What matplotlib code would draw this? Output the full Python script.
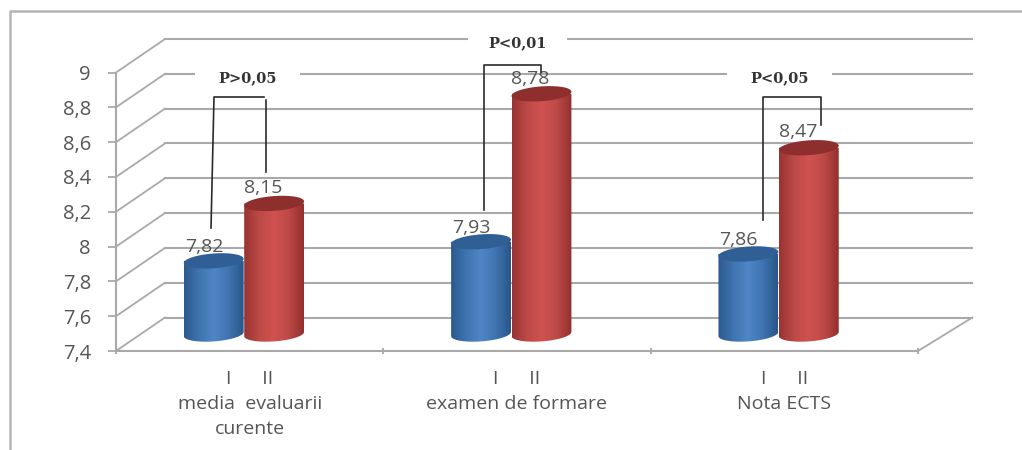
import numpy as np
import matplotlib
matplotlib.use("Agg")
import matplotlib.pyplot as plt
from matplotlib.colors import LinearSegmentedColormap
from matplotlib.lines import Line2D
from matplotlib.patches import Polygon, Rectangle
from matplotlib.transforms import Affine2D, IdentityTransform, ScaledTranslation

plt.rcParams['font.family'] = ['Open Sans', 'DejaVu Sans']

# Data
categories = ["I      II\nmedia  evaluarii\ncurente",
              "I      II\nexamen de formare",
              "I      II\nNota ECTS"]
values_i = [7.82, 7.93, 7.86]
values_ii = [8.15, 8.78, 8.47]
value_labels_i = ["7,82", "7,93", "7,86"]
value_labels_ii = ["8,15", "8,78", "8,47"]
y_ticks = [7.4, 7.6, 7.8, 8.0, 8.2, 8.4, 8.6, 8.8, 9.0]
y_labels = ["7,4", "7,6", "7,8", "8", "8,2", "8,4", "8,6", "8,8", "9"]

P_TEXT = ["P>0,05", "P<0,01", "P<0,05"]

W, H = 1022, 450
GREY = "#a9a9a9"
TEXT = "#555555"
BAR_W = 0.224
ELL_H = 0.085

blue = LinearSegmentedColormap.from_list(
    "b", ["#2c5a8e", "#3f74b0", "#4f86c6", "#3f74b0", "#2a568a"])
red = LinearSegmentedColormap.from_list(
    "r", ["#983432", "#bd4a47", "#d0524f", "#bd4a47", "#94302e"])

fig = plt.figure(figsize=(W / 100, H / 100), dpi=100)
ax = fig.add_axes([116 / W, (H - 351) / H, 802 / W, 278.5 / H])
ax.set_xlim(0, 3)
ax.set_ylim(7.4, 9)

# depth of the fake 3d box, in inches
back = ax.transData + ScaledTranslation(0.49, 0.335, fig.dpi_scale_trans)
mid = ax.transData + ScaledTranslation(0.25, 0.17, fig.dpi_scale_trans)
# annotations were put on the picture by hand, so they live in pixels
px = Affine2D().scale(1, -1).translate(0, H)
display = IdentityTransform()


def draw_walls():
    for v in y_ticks:
        ax.plot([0, 3.02], [v, v], color=GREY, lw=1.5, transform=back,
                clip_on=False, zorder=1)
        x0, y0 = ax.transData.transform((0, v))
        x1, y1 = back.transform((0, v))
        ax.plot([x0, x1], [y0, y1], color=GREY, lw=1.3, transform=display,
                clip_on=False, zorder=1)
    x0, y0 = ax.transData.transform((3, 7.4))
    x1, y1 = back.transform((3.02, 7.4))
    ax.plot([x0, x1], [y0, y1], color=GREY, lw=1.3, transform=display,
            clip_on=False, zorder=1)


def draw_cylinder(x, value, cmap, top_color, z):
    # slight tilt on the ellipses, as in the original
    t = np.linspace(0, 2 * np.pi, 80)
    ex = BAR_W / 2 * np.cos(t)
    ey = ELL_H / 2 * np.sin(t) + 0.012 * np.cos(t)
    lower = t >= np.pi
    base = 7.4

    order = np.argsort(ex[lower])
    bx, by = x + ex[lower][order], base + ey[lower][order]
    body = np.column_stack([np.r_[bx, x + BAR_W / 2, x - BAR_W / 2],
                            np.r_[by, value, value]])
    clip = Polygon(body, closed=True, fc="none", ec="none", transform=mid)
    ax.add_patch(clip)
    grad = np.linspace(0, 1, 64).reshape(1, -1)
    im = ax.imshow(grad, extent=(x - BAR_W / 2, x + BAR_W / 2, base - 0.1, value),
                   aspect="auto", cmap=cmap, transform=mid, zorder=z,
                   interpolation="bicubic")
    im.set_clip_path(clip)
    ax.add_patch(Polygon(np.column_stack([x + ex, value + ey]), closed=True,
                         fc=top_color, ec="none", transform=mid, zorder=z + 0.1))


draw_walls()

for i in range(3):
    x1, x2 = i + 0.272, i + 0.498
    draw_cylinder(x1, values_i[i], blue, "#2f5f95", 3)
    draw_cylinder(x2, values_ii[i], red, "#8e2f2d", 3.5)
    ax.annotate(value_labels_i[i], (x1, values_i[i]), xycoords=mid,
                xytext=(-7, 10), textcoords="offset points", ha="center",
                va="center", color=TEXT, fontsize=14, zorder=6)
    ax.annotate(value_labels_ii[i], (x2, values_ii[i]), xycoords=mid,
                xytext=(-8, 11), textcoords="offset points", ha="center",
                va="center", color=TEXT, fontsize=14, zorder=6)

ax.set_xlim(0, 3)
ax.set_ylim(7.4, 9)
ax.set_yticks(y_ticks, y_labels)
ax.set_xticks([0, 1, 2, 3], [])
ax.set_xticks([0.5, 1.5, 2.5], categories, minor=True, linespacing=1.5)
ax.tick_params(axis="y", length=6, width=1.3, color=GREY, labelcolor=TEXT,
               labelsize=14.5, pad=12)
ax.tick_params(axis="x", which="major", length=4, width=1.3, color=GREY,
               direction="inout")
ax.tick_params(axis="x", which="minor", length=0, labelcolor=TEXT,
               labelsize=14, pad=14)
for s in ("top", "right"):
    ax.spines[s].set_visible(False)
for s in ("left", "bottom"):
    ax.spines[s].set_color(GREY)
    ax.spines[s].set_linewidth(1.5)
ax.patch.set_alpha(0)

# P value boxes sitting on the gridlines
for (x, y, w, h), txt in zip([(195, 64, 105, 26), (468, 29, 99, 26),
                              (727, 64, 105, 26)], P_TEXT):
    ax.add_patch(Rectangle((x, y), w, h, fc="white", ec="none", transform=px,
                           clip_on=False, zorder=1.5))
    ax.text(x + w / 2, y + h / 2 + 1, txt, transform=px, ha="center", va="center",
            family="DejaVu Serif", weight="bold", fontsize=10.5,
            color="#333333", zorder=7)

# hand drawn brackets
for xs, ys in [([211, 214, 264], [228, 97, 97]),
               ([266, 266], [100, 172]),
               ([484, 484, 541, 541], [210, 65, 65, 72]),
               ([763, 763, 821, 821], [220, 97, 97, 125])]:
    fig.add_artist(Line2D(xs, ys, color="#2b2b2b", lw=1.2, transform=px, zorder=8))

# outer frame
fig.add_artist(Line2D([10, 10, W], [H, 11, 11], color="#b4b4b4", lw=1.8, transform=px))

fig.savefig("out.png", dpi=100)
